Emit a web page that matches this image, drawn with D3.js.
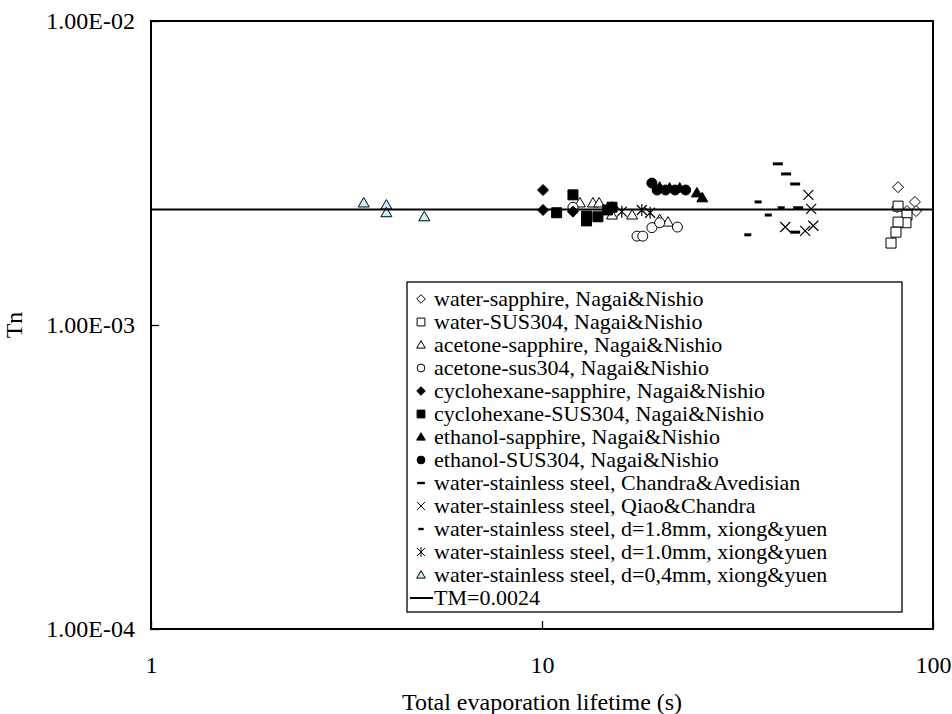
<!DOCTYPE html>
<html>
<head>
<meta charset="utf-8">
<script src="https://cdn.jsdelivr.net/npm/d3@7"></script>
<style>
  body { margin: 0; background: #fff; }
  svg text { font-family: "Liberation Serif", "Times New Roman", "DejaVu Serif", serif !important; fill: #000; }
</style>
</head>
<body>
<svg width="952" height="714"></svg>
<script>
// axis ticks
var xTicks = [1, 10, 100],
    xTickLabels = ["1", "10", "100"];
var yTicks = [1e-4, 1e-3, 1e-2],
    yTickLabels = ["1.00E-04", "1.00E-03", "1.00E-02"];

// series (x = total evaporation lifetime in s, y = Tn)
var waterSapphireX = [81.4, 89.9, 90.5, 85.8, 81.0],
    waterSapphireY = [0.00284, 0.00254, 0.00237, 0.00237, 0.00244];
var waterSusX = [81.4, 85.8, 85.3, 81.4, 80.4, 78.1],
    waterSusY = [0.00246, 0.00230, 0.00217, 0.00218, 0.00202, 0.00186];
var acetoneSapphireX = [12.5, 13.5, 14.0, 15.1, 17.0, 20.0, 21.0],
    acetoneSapphireY = [0.00252, 0.00252, 0.00252, 0.00230, 0.00230, 0.00222, 0.00218];
var acetoneSusX = [12.0, 17.5, 18.1, 19.1, 20.0, 22.2],
    acetoneSusY = [0.00244, 0.00196, 0.00196, 0.00209, 0.00217, 0.00210];
var cycloSapphireX = [10.06, 10.06, 12.0, 15.1],
    cycloSapphireY = [0.00278, 0.00239, 0.00236, 0.00244];
var cycloSusX = [12.0, 10.9, 13.0, 13.0, 13.9, 14.7, 15.1],
    cycloSusY = [0.00268, 0.00234, 0.00228, 0.00220, 0.00227, 0.00239, 0.00244];
var ethanolSapphireX = [20.0, 21.2, 22.5, 24.9, 25.7],
    ethanolSapphireY = [0.00284, 0.00282, 0.00282, 0.00272, 0.00262];
var ethanolSusX = [19.1, 19.7, 20.7, 21.9, 23.3],
    ethanolSusY = [0.00293, 0.00278, 0.00278, 0.00278, 0.00278];
var chandraX = [40.1, 42.1, 44.4, 45.2, 44.4],
    chandraY = [0.00339, 0.00314, 0.00291, 0.00243, 0.00202];
var qiaoX = [48.0, 48.8, 41.9, 49.4, 47.1],
    qiaoY = [0.00268, 0.00241, 0.00210, 0.00212, 0.00204];
var xiong18X = [33.6, 35.7, 37.9, 40.9],
    xiong18Y = [0.00198, 0.00254, 0.00230, 0.00243];
var xiong10X = [16.0, 18.0, 18.9],
    xiong10Y = [0.00236, 0.00239, 0.00234];
var xiong04X = [3.5, 4.0, 4.0, 5.0],
    xiong04Y = [0.00252, 0.00248, 0.00234, 0.00227];
var tmValue = 0.0024;

var seriesNames = [
  "water-sapphire, Nagai&Nishio",
  "water-SUS304, Nagai&Nishio",
  "acetone-sapphire, Nagai&Nishio",
  "acetone-sus304, Nagai&Nishio",
  "cyclohexane-sapphire, Nagai&Nishio",
  "cyclohexane-SUS304, Nagai&Nishio",
  "ethanol-sapphire, Nagai&Nishio",
  "ethanol-SUS304, Nagai&Nishio",
  "water-stainless steel, Chandra&Avedisian",
  "water-stainless steel, Qiao&Chandra",
  "water-stainless steel, d=1.8mm, xiong&yuen",
  "water-stainless steel, d=1.0mm, xiong&yuen",
  "water-stainless steel, d=0,4mm, xiong&yuen"
];
var tmLabel = "TM=0.0024";

var seriesX = [waterSapphireX, waterSusX, acetoneSapphireX, acetoneSusX, cycloSapphireX, cycloSusX,
               ethanolSapphireX, ethanolSusX, chandraX, qiaoX, xiong18X, xiong10X, xiong04X];
var seriesY = [waterSapphireY, waterSusY, acetoneSapphireY, acetoneSusY, cycloSapphireY, cycloSusY,
               ethanolSapphireY, ethanolSusY, chandraY, qiaoY, xiong18Y, xiong10Y, xiong04Y];
var shapes = ["diamond", "square", "triangle", "circle", "diamond", "square",
              "triangle", "circle", "longdash", "x", "shortdash", "star", "triangle"];
var fills = ["#fff", "#fff", "#fff", "#fff", "#000", "#000", "#000", "#000",
             "#000", "none", "#000", "none", "#c6f2f5"];

var serif = "'Liberation Serif', 'Times New Roman', 'DejaVu Serif', serif";
var fs = 24, legendFs = 22;

function markerPath(shape, s) {
    var p = d3.path();
    if (shape == "diamond") {
        p.moveTo(0, -5.5 * s); p.lineTo(5.5 * s, 0); p.lineTo(0, 5.5 * s); p.lineTo(-5.5 * s, 0); p.closePath();
    } else if (shape == "square") {
        p.rect(-5 * s, -5 * s, 10 * s, 10 * s);
    } else if (shape == "triangle") {
        p.moveTo(0, -5.5 * s); p.lineTo(5.5 * s, 4 * s); p.lineTo(-5.5 * s, 4 * s); p.closePath();
    } else if (shape == "circle") {
        p.arc(0, 0, 5 * s, 0, 2 * Math.PI); p.closePath();
    } else if (shape == "longdash") {
        p.rect(-5 * s, -1.5 * s, 10 * s, 3 * s);
    } else if (shape == "shortdash") {
        p.rect(-3.5 * s, -1.5 * s, 7 * s, 3 * s);
    } else if (shape == "x" || shape == "star") {
        p.moveTo(-5 * s, -5 * s); p.lineTo(5 * s, 5 * s);
        p.moveTo(-5 * s, 5 * s); p.lineTo(5 * s, -5 * s);
        if (shape == "star") { p.moveTo(0, -6 * s); p.lineTo(0, 6 * s); }
    }
    return p.toString();
}

var svg = d3.select("svg").attr("font-family", serif),
    margin = {top: 21, right: 19, bottom: 85, left: 151},
    width = +svg.attr("width") - margin.left - margin.right,
    height = +svg.attr("height") - margin.top - margin.bottom;

var x = d3.scaleLog().domain([1, 100]).range([0, width]),
    y = d3.scaleLog().domain([1e-4, 1e-2]).range([height, 0]);

var g = svg.append("g")
    .attr("transform", "translate(" + margin.left + "," + margin.top + ")");

// frame
g.append("rect")
    .attr("width", width)
    .attr("height", height)
    .attr("fill", "none")
    .attr("stroke", "#000")
    .attr("stroke-width", 2);

// y axis: ticks inside, labels outside
var yAxis = d3.axisLeft(y)
    .tickValues(yTicks)
    .tickSizeInner(-8)
    .tickSizeOuter(0)
    .tickPadding(16)
    .tickFormat(function(d, i) { return yTickLabels[i]; });
var gy = g.append("g").call(yAxis).attr("font-family", serif).attr("font-size", fs);
gy.select(".domain").remove();
gy.selectAll("line").attr("stroke", "#000").attr("stroke-width", 1.3);

var xAxis = d3.axisBottom(x)
    .tickValues(xTicks)
    .tickSizeInner(-8)
    .tickSizeOuter(0)
    .tickPadding(27)
    .tickFormat(function(d, i) { return xTickLabels[i]; });
var gx = g.append("g").attr("transform", "translate(0," + height + ")").call(xAxis)
    .attr("font-family", serif).attr("font-size", fs);
gx.select(".domain").remove();
gx.selectAll("line").attr("stroke", "#000").attr("stroke-width", 1.3);

// axis titles
g.append("text")
    .attr("x", width / 2)
    .attr("y", height + 81)
    .attr("text-anchor", "middle")
    .attr("font-size", fs)
    .text("Total evaporation lifetime (s)");

g.append("text")
    .attr("transform", "translate(" + (-129) + "," + (height / 2) + ") rotate(-90)")
    .attr("text-anchor", "middle")
    .attr("font-size", fs)
    .text("Tn");

// points
seriesX.forEach(function(xs, k) {
    var pts = xs.map(function(v, i) { return {x: v, y: seriesY[k][i]}; });
    var open = shapes[k] == "x" || shapes[k] == "star";
    g.append("g").selectAll("path")
        .data(pts)
        .enter().append("path")
        .attr("transform", function(d) { return "translate(" + x(d.x) + "," + y(d.y) + ")"; })
        .attr("d", markerPath(shapes[k], 1))
        .attr("fill", open ? "none" : fills[k])
        .attr("stroke", (k == 8 || k == 10) ? "none" : "#000")
        .attr("stroke-width", open ? 1.2 : 1);
});

// TM line
g.append("line")
    .attr("x1", x(1)).attr("x2", x(100))
    .attr("y1", y(tmValue)).attr("y2", y(tmValue))
    .attr("stroke", "#000")
    .attr("stroke-width", 2);

// legend
var lg = svg.append("g").attr("transform", "translate(407,282)");
lg.append("rect")
    .attr("width", 495)
    .attr("height", 330)
    .attr("fill", "#fff")
    .attr("stroke", "#000")
    .attr("stroke-width", 1.3);

var rowH = 23;
seriesNames.forEach(function(name, k) {
    var cy = 17 + k * rowH;
    var open = shapes[k] == "x" || shapes[k] == "star";
    lg.append("path")
        .attr("transform", "translate(14," + cy + ")")
        .attr("d", markerPath(shapes[k], 0.78))
        .attr("fill", open ? "none" : fills[k])
        .attr("stroke", (k == 8 || k == 10) ? "none" : "#000")
        .attr("stroke-width", 1);
    lg.append("text")
        .attr("x", 27)
        .attr("y", cy)
        .attr("dy", "0.33em")
        .attr("font-size", legendFs)
        .text(name);
});
var tmY = 17 + seriesNames.length * rowH;
lg.append("line")
    .attr("x1", 3).attr("x2", 26)
    .attr("y1", tmY).attr("y2", tmY)
    .attr("stroke", "#000").attr("stroke-width", 2);
lg.append("text")
    .attr("x", 27)
    .attr("y", tmY)
    .attr("dy", "0.33em")
    .attr("font-size", legendFs)
    .text(tmLabel);
</script>
</body>
</html>
